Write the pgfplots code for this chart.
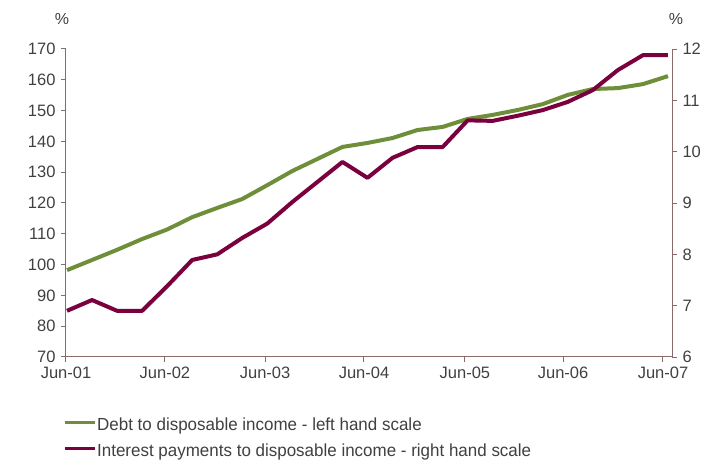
\documentclass[border=0pt]{standalone}
\usepackage{fontspec}
\setmainfont{Liberation Sans}
\newfontfamily\legendfont{Liberation Sans}[FakeStretch=0.97]
\usepackage{pgfplots}
\usepackage{pgfplotstable}
\pgfplotsset{compat=1.18}
\definecolor{dgreen}{RGB}{110,142,58}
\definecolor{maroon}{RGB}{122,0,62}
\definecolor{axisc}{RGB}{140,105,105}
\definecolor{txt}{RGB}{64,64,64}

\pgfplotstableread{
idx debt
0 98.2
1 101.5
2 104.8
3 108.3
4 111.4
5 115.4
6 118.4
7 121.3
8 125.8
9 130.4
10 134.3
11 138.2
12 139.5
13 141.1
14 143.7
15 144.7
16 147.3
17 148.6
18 150.2
19 152.1
20 155.1
21 157.0
22 157.3
23 158.6
24 161.2
}\debt

\pgfplotstableread{
idx int
0 6.90
1 7.11
2 6.90
3 6.90
4 7.38
5 7.89
6 8.00
7 8.32
8 8.60
9 9.02
10 9.41
11 9.80
12 9.49
13 9.88
14 10.09
15 10.09
16 10.61
17 10.60
18 10.70
19 10.81
20 10.97
21 11.20
22 11.59
23 11.88
24 11.88
}\inter

\begin{document}
\begin{tikzpicture}
\useasboundingbox (0pt,0pt) rectangle (716pt,461pt);
\pgfplotsset{
  common/.style={
    at={(66pt,104pt)}, anchor=south west,
    scale only axis, width=606pt, height=308pt,
    xmin=-0.04, xmax=24.16,
    axis line style={draw=axisc, line width=1pt, -},
    tick style={draw=axisc, line width=1pt},
    tick align=outside, major tick length=5pt,
    ticklabel style={font=\fontsize{16.5}{19}\selectfont, text=txt},
    /pgf/number format/assume math mode=true,
    clip=false,
  }
}
\begin{axis}[common,
  ymin=70, ymax=170,
  axis lines*=left,
  xtick={-0.04,3.91,7.91,11.86,15.89,19.81,23.80},
  xticklabels={Jun-01,Jun-02,Jun-03,Jun-04,Jun-05,Jun-06,Jun-07},
  ytick={70,80,...,170},
  yticklabel style={xshift=-2pt},
  xticklabel style={yshift=-1pt},
]
\addplot[dgreen, line width=4pt, line join=round] table[x=idx,y=debt]{\debt};
\end{axis}
\begin{axis}[common,
  ymin=6, ymax=12,
  axis y line*=right, axis x line=none,
  ytick={6,7,...,12},
  yticklabel style={xshift=2pt},
  legend style={at={(axis description cs:-0.005,-0.192)}, anchor=north west,
    draw=none, fill=none, inner sep=0pt, row sep=7pt,
    font=\legendfont\fontsize{17.5}{20}\selectfont, text=txt,
    nodes={inner sep=1pt, text height=13pt, text depth=4pt}},
  legend cell align=left,
  legend image code/.code={\draw[#1, line width=3pt] (0pt,3pt) -- (30pt,3pt);},
]
\addlegendimage{dgreen}
\addlegendentry{Debt to disposable income - left hand scale}
\addplot[maroon, line width=4pt, line join=round] table[x=idx,y=int]{\inter};
\addlegendentry{Interest payments to disposable income - right hand scale}
\end{axis}
\node[text=txt, font=\fontsize{16}{18}\selectfont] at (62pt,442pt) {\%};
\node[text=txt, font=\fontsize{16}{18}\selectfont] at (676pt,442pt) {\%};
\end{tikzpicture}
\end{document}
